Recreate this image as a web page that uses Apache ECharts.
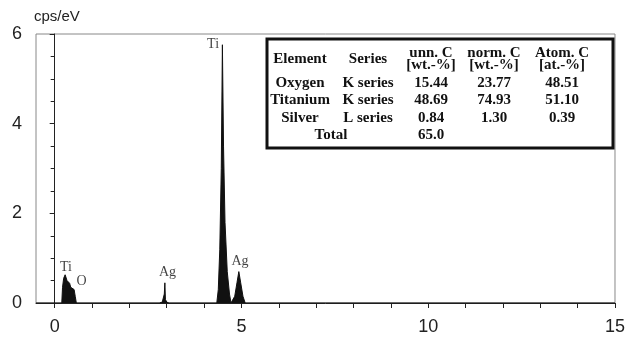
<!DOCTYPE html>
<html>
<head>
<meta charset="utf-8">
<script src="https://cdn.jsdelivr.net/npm/echarts@6/dist/echarts.min.js"></script>
<style>
html,body{margin:0;padding:0;background:#fff;}
#chart{width:628px;height:338px;}
</style>
</head>
<body>
<div id="chart"></div>
<script>
// Spectrum (energy in keV, counts in cps/eV)
var energy = [-0.5, 0.0, 0.19, 0.21, 0.24, 0.28, 0.30, 0.33, 0.35, 0.40, 0.43, 0.45, 0.52, 0.55, 0.58,
  2.80, 2.88, 2.92, 2.935, 2.95, 2.965, 3.0, 3.06,
  4.34, 4.38, 4.42, 4.46, 4.49, 4.52, 4.56, 4.62, 4.68, 4.72,
  4.76, 4.82, 4.88, 4.93, 4.98, 5.04, 5.10, 15.0];
var counts = [0, 0, 0, 0.35, 0.55, 0.63, 0.60, 0.50, 0.46, 0.44, 0.35, 0.31, 0.30, 0.15, 0,
  0, 0.02, 0.05, 0.20, 0.45, 0.08, 0.02, 0,
  0, 0.30, 1.20, 3.00, 5.76, 3.50, 1.80, 0.70, 0.20, 0,
  0, 0.15, 0.45, 0.70, 0.45, 0.15, 0, 0];

// Peak annotations
var peakNames = ['Ti', 'O', 'Ag', 'Ti', 'Ag'];
var peakX = [0.30, 0.72, 3.02, 4.24, 4.96];
var peakY = [0.80, 0.49, 0.69, 5.76, 0.92];

// Axis ticks
var xTicks = [0, 1, 2, 3, 4, 5, 6, 7, 8, 9, 10, 11, 12, 13, 14, 15];
var xLabels = [0, 5, 10, 15];
var yUnit = 'cps/eV';

// Quantification table
var tableHeader1 = ['Element', 'Series', 'unn. C', 'norm. C', 'Atom. C'];
var tableHeader2 = ['', '', '[wt.-%]', '[wt.-%]', '[at.-%]'];
var elements = ['Oxygen', 'Titanium', 'Silver'];
var seriesNames = ['K series', 'K series', 'L series'];
var unnC = ['15.44', '48.69', '0.84'];
var normC = ['23.77', '74.93', '1.30'];
var atomC = ['48.51', '51.10', '0.39'];
var totalLabel = 'Total';
var totalValue = '65.0';

var chart = echarts.init(document.getElementById('chart'));

var colX = [300, 368, 431, 494, 562];
var rowY = [83, 100.5, 118, 135];
var serif = '"Liberation Serif","Times New Roman",serif';
var sans = '"Liberation Sans", Arial, sans-serif';
var tfont = {fontFamily: serif, fontWeight: 'bold', fontSize: 15, fill: '#111', textAlign: 'center', textVerticalAlign: 'middle'};
function T(txt, x, y, extra) {
  var st = Object.assign({}, tfont, {text: txt}, extra || {});
  return {type: 'text', x: x, y: y, style: st, z: 101};
}
var tableEls = [{type: 'rect', shape: {x: 267, y: 39, width: 346, height: 109},
  style: {fill: '#fff', stroke: '#111', lineWidth: 3}, z: 100}];
tableHeader1.forEach(function (h, i) {
  var two = tableHeader2[i] !== '';
  tableEls.push(T(h, colX[i], two ? 53 : 59));
  if (two) tableEls.push(T(tableHeader2[i], colX[i], 65));
});
for (var r = 0; r < elements.length; r++) {
  tableEls.push(T(elements[r], colX[0], rowY[r]));
  tableEls.push(T(seriesNames[r], colX[1], rowY[r]));
  tableEls.push(T(unnC[r], colX[2], rowY[r]));
  tableEls.push(T(normC[r], colX[3], rowY[r]));
  tableEls.push(T(atomC[r], colX[4], rowY[r]));
}
tableEls.push(T(totalLabel, 331, rowY[3]));
tableEls.push(T(totalValue, colX[2], rowY[3]));
tableEls.push({type: 'text', x: 34, y: 17, z: 101,
  style: {text: yUnit, fontFamily: sans, fontSize: 15, fill: '#222', textAlign: 'left', textVerticalAlign: 'middle'}});

chart.setOption({
  animation: false,
  backgroundColor: '#fff',
  grid: {left: 36, top: 34, right: 11, bottom: 35, show: true, borderColor: '#888', borderWidth: 1},
  xAxis: {
    type: 'value', min: -0.5, max: 15,
    axisLine: {show: true, onZero: false, lineStyle: {color: '#222', width: 1}},
    axisTick: {show: true, length: 5, customValues: xTicks, lineStyle: {color: '#222'}},
    axisLabel: {customValues: xLabels, fontFamily: sans, fontSize: 18, color: '#222', margin: 15},
    splitLine: {show: false}
  },
  yAxis: {
    type: 'value', min: 0, max: 6, interval: 2,
    axisLine: {show: true, lineStyle: {color: '#222', width: 1}},
    axisTick: {show: true, length: 5, lineStyle: {color: '#222'}},
    minorTick: {show: true, splitNumber: 4, length: 4, lineStyle: {color: '#222'}},
    axisLabel: {fontFamily: sans, fontSize: 18, color: '#222', margin: 14},
    splitLine: {show: false}
  },
  series: [
    {
      type: 'line', symbol: 'none', smooth: false,
      data: energy.map(function (e, i) { return [e, counts[i]]; }),
      lineStyle: {color: '#111', width: 1},
      areaStyle: {color: '#111', opacity: 1},
      z: 3
    },
    {
      type: 'scatter', symbolSize: 0,
      data: peakNames.map(function (n, i) { return {name: n, value: [peakX[i], peakY[i]]}; }),
      label: {show: true, position: 'inside', formatter: '{b}', fontFamily: serif, fontSize: 14, color: '#111'},
      z: 5
    }
  ],
  graphic: tableEls
});
</script>
</body>
</html>
